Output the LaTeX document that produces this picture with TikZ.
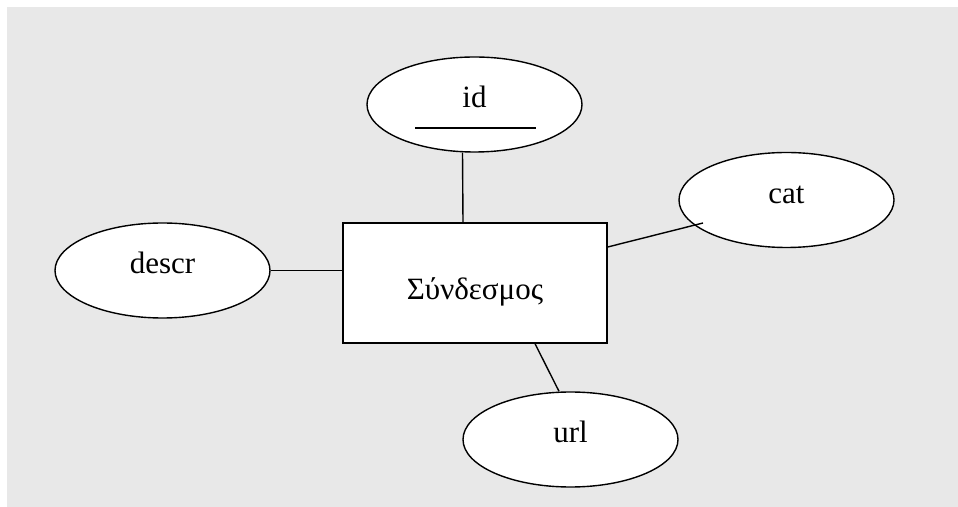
\documentclass[tikz,border=0pt]{standalone}
\usepackage{fontspec}
\setmainfont{Liberation Serif}
\usepackage{xcolor}
\usepackage{tikz}
\usetikzlibrary{shapes,positioning}

\definecolor{bggray}{RGB}{232,232,232}

\begin{document}
\begin{tikzpicture}[x=0.5pt,y=-0.5pt,
        attr/.style={ellipse, draw, line width=0.7pt, fill=white, inner sep=0pt,
            minimum width=107.5pt, minimum height=47.5pt,
            text height=10.5pt, text depth=7pt},
        entity/.style={rectangle, draw, line width=0.7pt, fill=white, inner sep=0pt,
            minimum width=132pt, minimum height=60pt,
            text height=20.5pt, text depth=3.5pt},
        link/.style={line width=0.7pt}]
        \fontsize{15.5}{18}\selectfont
        \useasboundingbox (0,0) rectangle (958,507);
        \fill[bggray] (7,7) rectangle (958,507);

        % Entity
        \node[entity] (ent) at (475,283) {Σύνδεσμος};

        % Attributes
        \node[attr] (id) at (474.5,104.5) {id};
        \node[attr] (cat) at (786.5,200) {cat};
        \node[attr] (descr) at (162.5,270.5) {descr};
        \node[attr] (url) at (570.5,439.5) {url};

        % Key underline
        \draw[link] ([xshift=-29.75pt,yshift=-11.75pt]id.center) -- ([xshift=30.75pt,yshift=-11.75pt]id.center);

        % Connectors
        \draw[link] ([xshift=-6pt]id.south) -- ([xshift=-6pt]ent.north);
        \draw[link] (descr.east) -- (ent.west |- descr.east);
        \draw[link] ([yshift=18pt]ent.east) -- ([xshift=-41.75pt,yshift=-11.5pt]cat.center);
        \draw[link] ([xshift=30pt]ent.south) -- ([xshift=-5.75pt]url.north);
    \end{tikzpicture}
\end{document}
